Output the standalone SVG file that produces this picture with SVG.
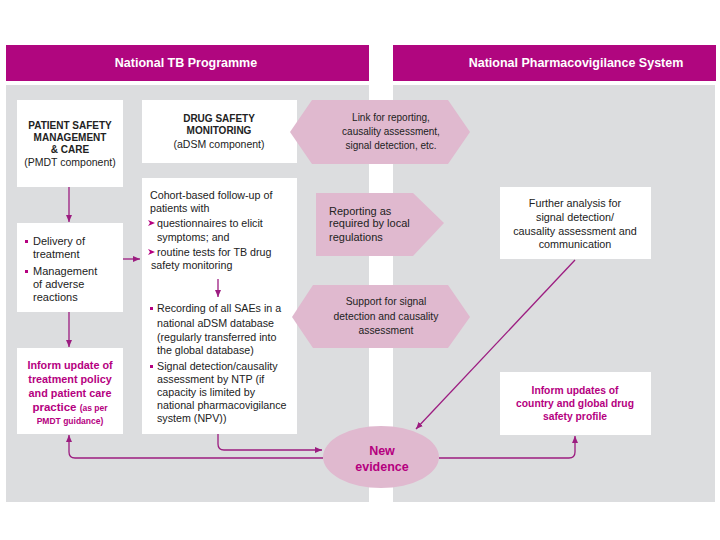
<svg xmlns="http://www.w3.org/2000/svg" width="720" height="540" viewBox="0 0 720 540">
<defs>
<style>
.t{font-family:"Liberation Sans",Arial,sans-serif;font-size:10px;fill:#222}
.b{font-weight:bold}
.p{fill:#b5007f;font-weight:bold}
.h{font-family:"Liberation Sans",Arial,sans-serif;font-size:12.5px;font-weight:bold;fill:#fff}
.box{fill:#fff}
.pk{fill:#e0b9cf}
.c{fill:none;stroke:#9c1c80;stroke-width:1.3}
.m{text-anchor:middle}
</style>
<marker id="ah" markerWidth="8" markerHeight="8" refX="7" refY="4" orient="auto" markerUnits="userSpaceOnUse">
<path d="M0,1 L7,4 L0,7 Z" fill="#9c1c80"/>
</marker>
</defs>
<rect width="720" height="540" fill="#fff"/>
<g id="panels">
<rect x="6" y="45" width="363" height="36" fill="#b0067f"/>
<rect x="393" y="45" width="323" height="36" fill="#b0067f"/>
<rect x="6" y="85" width="363" height="417" fill="#dcdddf"/>
<rect x="393" y="85" width="322" height="417" fill="#dcdddf"/>
<text class="h m" x="186" y="67">National TB Programme</text>
<text class="h m" x="576" y="67">National Pharmacovigilance System</text>
</g>
<g id="n-patient">
<rect class="box" x="17" y="100" width="106" height="87"/>
<text class="t b m" x="70" y="129">PATIENT SAFETY</text>
<text class="t b m" x="70" y="141">MANAGEMENT</text>
<text class="t b m" x="70" y="153">&amp; CARE</text>
<text class="t m" x="70" y="166" style="font-size:10.5px">(PMDT component)</text>
</g>
<g id="n-drug">
<rect class="box" x="142" y="100" width="155" height="63"/>
<text class="t b m" x="219" y="122">DRUG SAFETY</text>
<text class="t b m" x="219" y="134">MONITORING</text>
<text class="t m" x="219" y="148" style="font-size:10.5px">(aDSM component)</text>
</g>
<g id="n-delivery">
<rect class="box" x="17" y="223" width="106" height="89"/>
<g class="t" style="font-size:11px">
<text x="33" y="245">Delivery of</text>
<text x="33" y="258">treatment</text>
<text x="33" y="275">Management</text>
<text x="33" y="288">of adverse</text>
<text x="33" y="301">reactions</text>
</g>
<rect x="25" y="240" width="3" height="3" fill="#b5007f"/>
<rect x="25" y="270" width="3" height="3" fill="#b5007f"/>
</g>
<g id="n-cohort">
<rect class="box" x="142" y="178" width="155" height="256"/>
<g class="t" style="font-size:10.7px">
<text x="150" y="199">Cohort-based follow-up of</text>
<text x="150" y="212">patients with</text>
<text x="157" y="227">questionnaires to elicit</text>
<text x="157" y="241">symptoms; and</text>
<text x="157" y="256">routine tests for TB drug</text>
<text x="151" y="269">safety monitoring</text>
<text x="157" y="312">Recording of all SAEs in a</text>
<text x="157" y="327">national aDSM database</text>
<text x="157" y="341">(regularly transferred into</text>
<text x="157" y="354">the global database)</text>
<text x="157" y="370">Signal detection/causality</text>
<text x="157" y="383">assessment by NTP (if</text>
<text x="157" y="396">capacity is limited by</text>
<text x="157" y="409">national pharmacovigilance</text>
<text x="157" y="422">system (NPV))</text>
</g>
<path d="M148,220 L155,223 L148,226 L150,223 Z" fill="#b5007f"/>
<path d="M148,249 L155,252 L148,255 L150,252 Z" fill="#b5007f"/>
<rect x="150" y="307" width="3" height="3" fill="#b5007f"/>
<rect x="150" y="365" width="3" height="3" fill="#b5007f"/>
</g>
<g id="n-inform-policy">
<rect class="box" x="17" y="348" width="106" height="86"/>
<g class="t p m" style="font-size:10.8px">
<text x="70" y="369">Inform update of</text>
<text x="70" y="383">treatment policy</text>
<text x="70" y="397">and patient care</text>
<text x="70" y="411" style="font-size:11.5px">practice <tspan style="font-size:8.5px">(as per</tspan></text>
<text x="70" y="424" style="font-size:8.5px">PMDT guidance)</text>
</g>
</g>
<g id="n-link">
<polygon class="pk" points="290,132 312,100 448,100 470,132 448,164 312,164"/>
<g class="t m" style="font-size:10px">
<text x="391" y="121">Link for reporting,</text>
<text x="391" y="135">causality assessment,</text>
<text x="391" y="149">signal detection, etc.</text>
</g>
</g>
<g id="n-reporting">
<polygon class="pk" points="316,193 413,193 444,223 413,256 316,256"/>
<g class="t" style="font-size:11px">
<text x="329" y="215">Reporting as</text>
<text x="329" y="227">required by local</text>
<text x="329" y="241">regulations</text>
</g>
</g>
<g id="n-support">
<polygon class="pk" points="292,317 313,285 448,285 470,317 448,348 313,348"/>
<g class="t m" style="font-size:10.3px">
<text x="386" y="305">Support for signal</text>
<text x="386" y="320">detection and causality</text>
<text x="386" y="334">assessment</text>
</g>
</g>
<g id="n-further">
<rect class="box" x="500" y="187" width="151" height="72"/>
<g class="t m" style="font-size:10.8px">
<text x="575" y="207">Further analysis for</text>
<text x="575" y="221">signal detection/</text>
<text x="575" y="235">causality assessment and</text>
<text x="575" y="248">communication</text>
</g>
</g>
<g id="n-inform-country">
<rect class="box" x="500" y="372" width="151" height="63"/>
<g class="t p m" style="font-size:10.3px">
<text x="575" y="394">Inform updates of</text>
<text x="575" y="407">country and global drug</text>
<text x="575" y="420">safety profile</text>
</g>
</g>
<g id="n-evidence">
<ellipse class="pk" cx="381" cy="457" rx="58" ry="31"/>
<text class="t p m" x="382" y="455" style="font-size:12.5px">New</text>
<text class="t p m" x="382" y="471" style="font-size:12.5px">evidence</text>
</g>
<g id="connectors">
<path class="c" d="M69,187 V222" marker-end="url(#ah)"/>
<path class="c" d="M69,312 V347" marker-end="url(#ah)"/>
<path class="c" d="M123,259 H140" marker-end="url(#ah)"/>
<path class="c" d="M218,279 V297" marker-end="url(#ah)"/>
<path class="c" d="M218,434 V444 Q218,450 224,450 H322" marker-end="url(#ah)"/>
<path class="c" d="M323,458 H75 Q69,458 69,452 V435" marker-end="url(#ah)"/>
<path class="c" d="M439,458 H569 Q575,458 575,452 V436" marker-end="url(#ah)"/>
<path class="c" d="M575,260 Q498,342 416,429" marker-end="url(#ah)"/>
</g>
</svg>
